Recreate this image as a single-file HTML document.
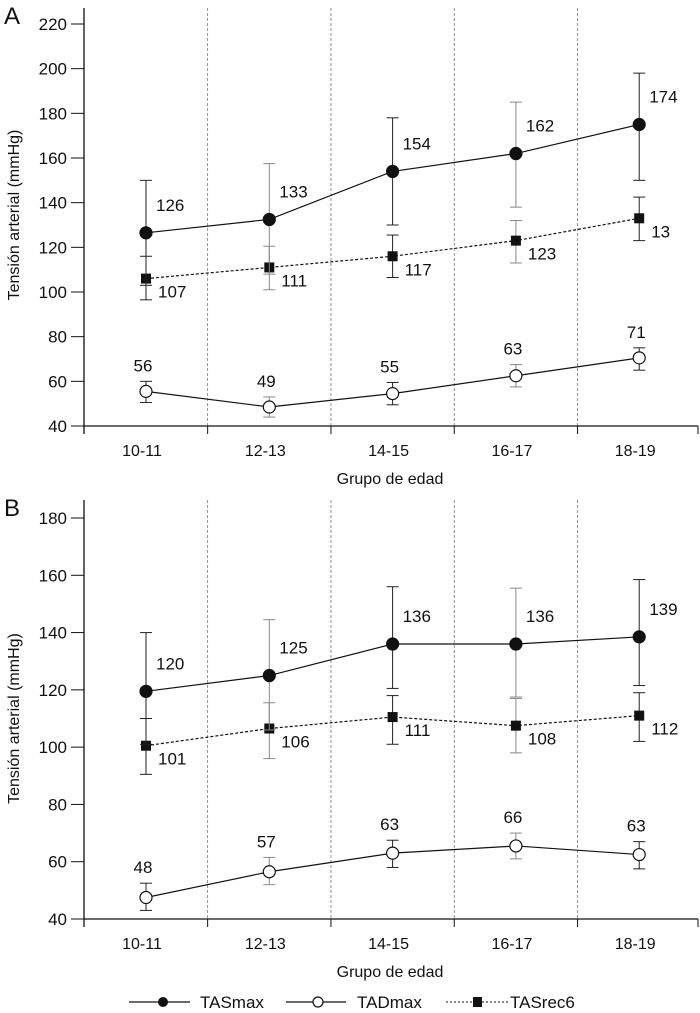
<!DOCTYPE html>
<html><head><meta charset="utf-8"><style>
html,body{margin:0;padding:0;background:#fff}
svg{display:block;font-family:"Liberation Sans",Arial,sans-serif}
</style></head><body>
<svg id="chart" width="700" height="1013" viewBox="0 0 700 1013" xmlns="http://www.w3.org/2000/svg"></svg>
<script>
const categories=["10-11","12-13","14-15","16-17","18-19"];
// Panel A
const aTASmax=[126.5,132.5,154,162,175];
const aTASmaxHi=[150,157.5,178,185,198];
const aTASmaxLo=[103,108,130,138,150];
const aTASmaxLbl=["126","133","154","162","174"];
const aTASrec=[106,111,116,123,133];
const aTASrecHi=[116,120.5,125.5,132,142.5];
const aTASrecLo=[96.5,101,106.5,113,123];
const aTASrecLbl=["107","111","117","123","13"];
const aTAD=[55.5,48.5,54.5,62.5,70.5];
const aTADHi=[60,53,59.5,67.5,75];
const aTADLo=[50.5,44,49.5,57.5,65];
const aTADLbl=["56","49","55","63","71"];
const aTicks=[40,60,80,100,120,140,160,180,200,220];
// Panel B
const bTASmax=[119.5,125,136,136,138.5];
const bTASmaxHi=[140,144.5,156,155.5,158.5];
const bTASmaxLo=[101,106,120.5,117.5,121.5];
const bTASmaxLbl=["120","125","136","136","139"];
const bTASrec=[100.5,106.5,110.5,107.5,111];
const bTASrecHi=[110,115.5,118,117,119];
const bTASrecLo=[90.5,96,101,98,102];
const bTASrecLbl=["101","106","111","108","112"];
const bTAD=[47.5,56.5,63,65.5,62.5];
const bTADHi=[52.5,61.5,67.5,70,67];
const bTADLo=[43,52,58,61,57.5];
const bTADLbl=["48","57","63","66","63"];
const bTicks=[40,60,80,100,120,140,160,180];

const svg=document.getElementById('chart');
const NS="http://www.w3.org/2000/svg";
function mk(tag,attrs,parent){const e=document.createElementNS(NS,tag);for(const k in attrs)e.setAttribute(k,attrs[k]);(parent||svg).appendChild(e);return e;}
function txt(s,x,y,attrs,parent){const e=mk('text',Object.assign({x:x,y:y,'font-size':17,fill:'#111'},attrs||{}),parent);e.textContent=s;return e;}

function panel(id,letter,top,yAxisY,yMin,yMax,yTopPx,yBotPx,ticks,sets){
  const g=mk('g',{});
  
  
  const X0=84,X1=698;
  const xs=i=>146+i*123.3;
  const ys=v=>yBotPx-(v-yMin)/(yMax-yMin)*(yBotPx-yTopPx);
  const pl=txt(letter,4,top+24,{'font-size':24},g);
  
  
  for(let i=1;i<5;i++){const x=(xs(i-1)+xs(i))/2;
    const d=mk('line',{x1:x,x2:x,y1:top+8,y2:yBotPx,stroke:'#777','stroke-dasharray':'3,2','stroke-width':0.8},g);
    
    }
  const ya=mk('line',{x1:X0,x2:X0,y1:top+8,y2:yBotPx+8,stroke:'#111','stroke-width':1.3},g);
  
  
  const xa=mk('line',{x1:X0,x2:X1,y1:yBotPx,y2:yBotPx,stroke:'#111','stroke-width':1.3},g);
  
  
  ticks.forEach(t=>{const y=ys(t);
    mk('line',{x1:X0-13,x2:X0,y1:y,y2:y,stroke:'#111','stroke-width':1},g);
    const l=txt(String(t),X0-17,y+6,{'text-anchor':'end'},g);
    
    });
  for(let i=1;i<=5;i++){const x=(i<5)?(xs(i-1)+xs(i))/2:X1;
    mk('line',{x1:x,x2:x,y1:yBotPx,y2:yBotPx+8,stroke:'#111','stroke-width':1},g);}
  categories.forEach((c,i)=>{const l=txt(c,xs(i)-4,yBotPx+30,{'text-anchor':'middle','font-size':16},g);
    
    });
  const xt=txt('Grupo de edad',390,yBotPx+58,{'text-anchor':'middle','font-size':16},g);
  
  
  const cy=(yTopPx+yBotPx)/2+(id==='a'?-10:0);
  const yt=txt('Tensión arterial (mmHg)',19,cy,{'text-anchor':'middle','font-size':16,transform:'rotate(-90 19 '+cy+')'},g);
  
  
  sets.forEach(s=>{
    s.v.forEach((v,i)=>{const x=xs(i)+(s.dx||0);
      const eb=mk('g',{stroke:i%2?'#888':'#222','stroke-width':1},g);
      
      
      mk('line',{x1:x,x2:x,y1:ys(s.hi[i]),y2:ys(s.lo[i])},eb);
      mk('line',{x1:x-6,x2:x+6,y1:ys(s.hi[i]),y2:ys(s.hi[i])},eb);
      mk('line',{x1:x-6,x2:x+6,y1:ys(s.lo[i]),y2:ys(s.lo[i])},eb);});
    const pts=s.v.map((v,i)=>(xs(i)+(s.dx||0))+','+ys(v)).join(' ');
    const pl=mk('polyline',{points:pts,fill:'none',stroke:'#111','stroke-width':1.2,'stroke-dasharray':s.dash||'none'},g);
    
    
    s.v.forEach((v,i)=>{const x=xs(i)+(s.dx||0),y=ys(v);let m;
      if(s.marker==='sq')m=mk('rect',{x:x-5,y:y-5,width:10,height:10,fill:'#111'},g);
      else m=mk('circle',{cx:x,cy:y,r:6,fill:s.marker==='open'?'#fff':'#111',stroke:'#111','stroke-width':1.2},g);
      
      
      const lx=s.lpos==='above'?x-3:x+(s.lpos==='right'?10:12);
      const ly=s.lpos==='above'?ys(s.hi[i])-10:(s.lpos==='right'?y-22:y+19);
      const lb=txt(s.lbl[i],lx,ly,{'text-anchor':s.lpos==='above'?'middle':'start'},g);
      
      });
  });
}
panel('a','A',0,0,40,220,24,426,aTicks,[
 {name:'tasrec6',v:aTASrec,hi:aTASrecHi,lo:aTASrecLo,lbl:aTASrecLbl,marker:'sq',dash:'3,2',lpos:'below'},
 {name:'tasmax',v:aTASmax,hi:aTASmaxHi,lo:aTASmaxLo,lbl:aTASmaxLbl,marker:'fill',lpos:'right'},
 {name:'tadmax',v:aTAD,hi:aTADHi,lo:aTADLo,lbl:aTADLbl,marker:'open',lpos:'above'}]);
panel('b','B',492,0,40,180,518,919,bTicks,[
 {name:'tasrec6',v:bTASrec,hi:bTASrecHi,lo:bTASrecLo,lbl:bTASrecLbl,marker:'sq',dash:'3,2',lpos:'below'},
 {name:'tasmax',v:bTASmax,hi:bTASmaxHi,lo:bTASmaxLo,lbl:bTASmaxLbl,marker:'fill',lpos:'right'},
 {name:'tadmax',v:bTAD,hi:bTADHi,lo:bTADLo,lbl:bTADLbl,marker:'open',lpos:'above'}]);
const lg=mk('g',{});


const e1=mk('g',{},lg);


mk('line',{x1:129,x2:190,y1:1002,y2:1002,stroke:'#111','stroke-width':1.2},e1);
mk('circle',{cx:163,cy:1002,r:5,fill:'#111'},e1);
txt('TASmax',200,1008,{},e1);
const e2=mk('g',{},lg);


mk('line',{x1:286,x2:346,y1:1002,y2:1002,stroke:'#111','stroke-width':1.2},e2);
mk('circle',{cx:318,cy:1002,r:5,fill:'#fff',stroke:'#111','stroke-width':1.2},e2);
txt('TADmax',357,1008,{},e2);
const e3=mk('g',{},lg);


mk('line',{x1:446,x2:510,y1:1002,y2:1002,stroke:'#111','stroke-width':1,'stroke-dasharray':'2,2'},e3);
mk('rect',{x:473,y:997,width:9,height:10,fill:'#111'},e3);
txt('TASrec6',510,1008,{},e3);
</script>
</body></html>
